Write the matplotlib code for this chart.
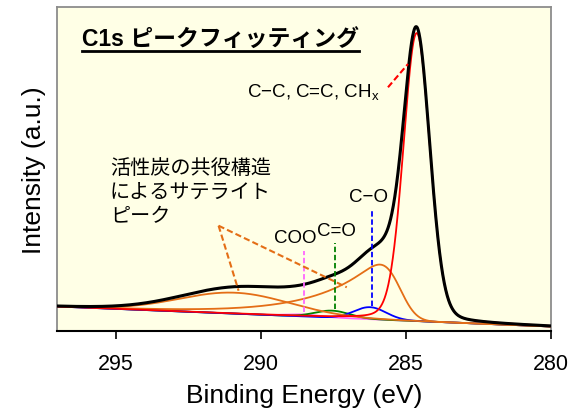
import numpy as np
import matplotlib
matplotlib.use("Agg")
import matplotlib.pyplot as plt
from matplotlib.lines import Line2D

plt.rcParams['font.family'] = ['Liberation Sans', 'Noto Sans CJK JP', 'DejaVu Sans']
plt.rcParams['mathtext.fontset'] = 'custom'
plt.rcParams['mathtext.rm'] = 'Liberation Sans'

# ---------------- data ----------------
x_ticks = [295, 290, 285, 280]
x_range = [297.03, 280.0]

# linear background (binding energy, intensity a.u.)
bg_energy = [297.03, 280.0]
bg_level = [24.5, 4.5]

# fitted components
comp_names = ['C-C', 'C-O', 'C=O', 'COO', 'sat1', 'sat2']
comp_center = [284.63, 286.24, 287.55, 288.55, 290.90, 285.90]
comp_height = [288.0, 12.0, 7.0, 2.0, 21.0, 55.0]
comp_fwhm = [1.08, 1.30, 1.40, 1.40, 4.50, 1.05]
comp_lorentz = [0.15, 0.0, 0.0, 0.0, 0.0, 0.0]
comp_tail = [0.0, 0.0, 0.0, 0.0, 0.0, 2.1]   # exponential tail to higher BE (eV)
comp_color = ['#FF0000', '#0000FF', '#008000', '#FF66FF', '#E46E16', '#E46E16']

# marker lines for component positions
marker_energy = [286.16, 287.44, 288.50]
marker_color = ['#0000FF', '#008000', '#FF66FF']
marker_text = ['C−O', 'C=O', 'COO']

title_text = 'C1s ピークフィッティング'
sat_text = ['活性炭の共役構造', 'によるサテライト', 'ピーク']
cc_text = r'C−C, C=C, CH$_\mathregular{x}$'


# ---------------- line shapes ----------------
def component(E, c, h, fwhm, eta, tail):
    if tail <= 0:
        sig = fwhm / 2.3548
        g = np.exp(-0.5 * ((E - c) / sig) ** 2)
        gam = fwhm / 2.0
        l = 1.0 / (1.0 + ((E - c) / gam) ** 2)
        return h * ((1 - eta) * g + eta * l)
    # gaussian convolved with one-sided exponential, apex placed at c
    step = 0.002
    d = np.arange(-20, 20, step)
    sig = fwhm / 2.3548
    g = np.exp(-0.5 * (d / sig) ** 2)
    t = np.arange(0, 20, step)
    k = np.exp(-t / tail)
    conv = np.convolve(g, k)[:len(d)]
    conv = conv / conv.max()
    apex = d[np.argmax(conv)]
    return h * np.interp(E - c, d - apex, conv)


E = np.linspace(x_range[0], x_range[1], 2000)
bg = np.interp(E, bg_energy[::-1], bg_level[::-1])

comps = [component(E, c, h, w, eta, tl) for c, h, w, eta, tl in
         zip(comp_center, comp_height, comp_fwhm, comp_lorentz, comp_tail)]
total = bg + np.sum(comps, axis=0)

# ---------------- figure ----------------
W, H = 581, 414
fig = plt.figure(figsize=(W / 100, H / 100), dpi=100)
ax = fig.add_axes([57 / W, 1 - 332 / H, (551 - 57) / W, (332 - 8) / H])
ax.set_facecolor('#FFFFE6')

def px2y(py):
    return 332 - py

ax.set_xlim(x_range[0], x_range[1])
ax.set_ylim(0, 324)

order = [3, 2, 1, 4, 5, 0]
for i in order:
    ax.plot(E, bg + comps[i], color=comp_color[i], lw=1.3, zorder=3)
ax.plot(E, total, color='black', lw=2.2, zorder=5)

# marker dashed lines + labels
mk_top = [px2y(210), px2y(244), px2y(252)]
mk_bot = [px2y(307), px2y(310), px2y(313)]
lbl_xy = [(286.29, px2y(198)), (287.39, px2y(232)), (288.82, px2y(239))]
for e, col, t, yt, yb, (lx, ly) in zip(marker_energy, marker_color, marker_text,
                                        mk_top, mk_bot, lbl_xy):
    ax.plot([e, e], [yb, yt], color=col, lw=1.3, ls=(0, (3, 1.5)), zorder=6)
    ax.text(lx, ly, t, fontsize=13.5, ha='center', va='center', zorder=7)

# C-C label and red dashed pointer
ax.text(290.47, px2y(93), cc_text, fontsize=13.5, ha='left', va='center', zorder=7)
ax.plot([285.62, 284.93], [px2y(88.3), px2y(65)], color='#FF0000', lw=1.5,
        ls=(0, (3, 1.5)), zorder=6)

# satellite annotation
for k, (t, py) in enumerate(zip(sat_text, [168, 193.5, 217])):
    fig.text(110 / W, 1 - py / H, t, fontsize=14.5, ha='left', va='center',
             family=['Noto Sans CJK JP'])
apex = (291.46, px2y(226.7))
for end in [(290.77, px2y(291.7)), (287.04, px2y(288.3))]:
    ax.plot([apex[0], end[0]], [apex[1], end[1]], color='#E46E16', lw=1.5,
            ls=(0, (3, 1.5)), zorder=6)

# title with underline
tt = fig.text(82 / W, 1 - 46.5 / H, title_text, fontsize=16.5, fontweight='bold',
              ha='left', va='baseline')

# axes styling
for s in ['top', 'right', 'left']:
    ax.spines[s].set_color('#8C8C8C')
    ax.spines[s].set_linewidth(1.3)
ax.spines['bottom'].set_color('black')
ax.spines['bottom'].set_linewidth(1.5)
ax.set_xticks(x_ticks)
ax.set_xticklabels([str(v) for v in x_ticks])
ax.tick_params(axis='x', direction='out', length=6, width=1.2, labelsize=15.5,
               pad=10, colors='black')
ax.set_yticks([])
ax.set_xlabel('Binding Energy (eV)', fontsize=19, labelpad=6)
ax.set_ylabel('Intensity (a.u.)', fontsize=19, labelpad=8)

fig.canvas.draw()
bb = tt.get_window_extent()
uy = 1 - 51.7 / H
fig.add_artist(Line2D([bb.x0 / W, bb.x1 / W], [uy, uy], color='black', lw=2.0,
                      transform=fig.transFigure))

fig.savefig('out.png', dpi=100, facecolor='white')
